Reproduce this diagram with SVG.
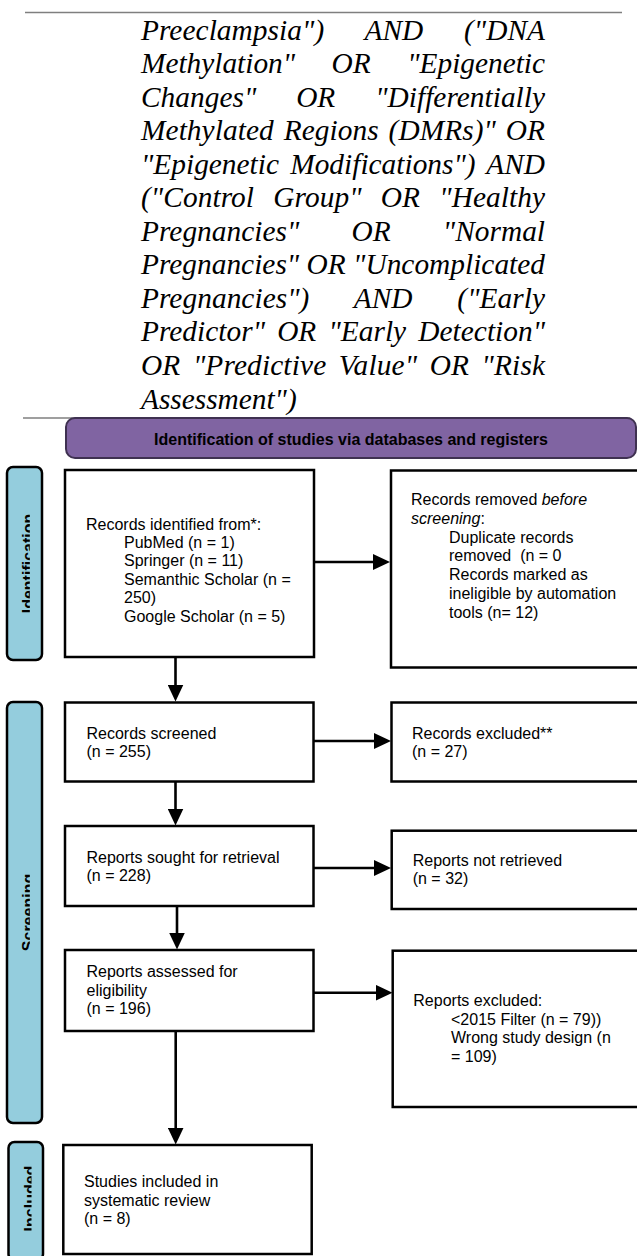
<svg xmlns="http://www.w3.org/2000/svg" width="637" height="1256" viewBox="0 0 637 1256">
<style>
.q{font-family:"Liberation Serif","Times New Roman",serif;font-style:italic;font-size:29.33px;fill:#000}
.t{font-family:"Liberation Sans",Arial,sans-serif;font-size:16px;fill:#000}
.b{font-family:"Liberation Sans",Arial,sans-serif;font-size:16px;font-weight:bold;fill:#000}
.box{fill:#fff;stroke:#000;stroke-width:2.5}
.side{fill:#94CDDD;stroke:#000;stroke-width:2.5}
.rule{stroke:#7f7f7f;stroke-width:1.5}
.conn{fill:none;stroke:#000;stroke-width:2.6}
</style>
<defs>
<marker id="ah" viewBox="0 0 17 16" refX="7" refY="8" markerWidth="17" markerHeight="16" markerUnits="userSpaceOnUse" orient="auto">
<path d="M0,0 L17,8 L0,16 z" fill="#000"/>
</marker>
<clipPath id="cTitle"><rect x="66" y="418" width="570" height="29.5"/></clipPath>
<clipPath id="cId"><rect x="6" y="467" width="23.8" height="193"/></clipPath>
<clipPath id="cScr"><rect x="6" y="702" width="23.8" height="421"/></clipPath>
<clipPath id="cInc"><rect x="8" y="1142" width="23.5" height="114"/></clipPath>
</defs>

<g id="search-text">
<line class="rule" x1="25" y1="12.5" x2="622" y2="12.5"/>
<text class="q" x="141" y="39.5" word-spacing="33.3" textLength="404" lengthAdjust="spacing">Preeclampsia") AND ("DNA</text>
<text class="q" x="141" y="73.05" word-spacing="29.2" textLength="404" lengthAdjust="spacing">Methylation" OR "Epigenetic</text>
<text class="q" x="141" y="106.6" word-spacing="32.5" textLength="404" lengthAdjust="spacing">Changes" OR "Differentially</text>
<text class="q" x="141" y="140.15" word-spacing="2.4" textLength="404" lengthAdjust="spacing">Methylated Regions (DMRs)" OR</text>
<text class="q" x="141" y="173.7" word-spacing="3.9" textLength="404" lengthAdjust="spacing">"Epigenetic Modifications") AND</text>
<text class="q" x="141" y="207.25" word-spacing="11.8" textLength="404" lengthAdjust="spacing">("Control Group" OR "Healthy</text>
<text class="q" x="141" y="240.8" word-spacing="44.7" textLength="404" lengthAdjust="spacing">Pregnancies" OR "Normal</text>
<text class="q" x="141" y="274.35" textLength="404" lengthAdjust="spacing">Pregnancies" OR "Uncomplicated</text>
<text class="q" x="141" y="307.9" word-spacing="37.4" textLength="404" lengthAdjust="spacing">Pregnancies") AND ("Early</text>
<text class="q" x="141" y="341.45" word-spacing="4.8" textLength="404" lengthAdjust="spacing">Predictor" OR "Early Detection"</text>
<text class="q" x="141" y="375" word-spacing="5" textLength="404" lengthAdjust="spacing">OR "Predictive Value" OR "Risk</text>
<text class="q" x="141" y="408.55">Assessment")</text>
<line class="rule" x1="23" y1="418" x2="630" y2="418"/>
</g>

<g id="title">
<rect x="66" y="418" width="570" height="40" rx="9" fill="#8064A2" stroke="#3F3151" stroke-width="2"/>
<text class="b" x="351" y="445" text-anchor="middle" clip-path="url(#cTitle)">Identification of studies via databases and registers</text>
</g>

<g id="side-identification">
<rect class="side" x="7" y="467" width="35" height="193" rx="6"/>
<g clip-path="url(#cId)"><text class="b" transform="translate(34.3,563.5) rotate(-90)" text-anchor="middle">Identification</text></g>
</g>
<g id="side-screening">
<rect class="side" x="7" y="702" width="35" height="421" rx="6"/>
<g clip-path="url(#cScr)"><text class="b" transform="translate(34.3,912.5) rotate(-90)" text-anchor="middle">Screening</text></g>
</g>
<g id="side-included">
<rect class="side" x="8.5" y="1142" width="34.5" height="118" rx="6"/>
<g clip-path="url(#cInc)"><text class="b" transform="translate(36.3,1198.5) rotate(-90)" text-anchor="middle">Included</text></g>
</g>

<g id="connectors">
<path class="conn" d="M314,562 H380" marker-end="url(#ah)"/>
<path class="conn" d="M175.5,657 V691.5" marker-end="url(#ah)"/>
<path class="conn" d="M313.5,741 H381" marker-end="url(#ah)"/>
<path class="conn" d="M175.5,781.5 V815.5" marker-end="url(#ah)"/>
<path class="conn" d="M313.5,868 H381" marker-end="url(#ah)"/>
<path class="conn" d="M177,906 V939.5" marker-end="url(#ah)"/>
<path class="conn" d="M313.5,992.7 H382.5" marker-end="url(#ah)"/>
<path class="conn" d="M175.7,1031 V1134.5" marker-end="url(#ah)"/>
</g>

<g id="records-identified">
<rect class="box" x="65" y="470" width="249" height="187"/>
<text class="t" x="86" y="529.5">Records identified from*:</text>
<text class="t" x="124" y="547.9">PubMed (n = 1)</text>
<text class="t" x="124" y="566.3">Springer (n = 11)</text>
<text class="t" x="124" y="584.7">Semanthic Scholar (n =</text>
<text class="t" x="124" y="603.1">250)</text>
<text class="t" x="124" y="621.5">Google Scholar (n = 5)</text>
</g>

<g id="records-removed">
<rect class="box" x="391" y="470.5" width="260" height="197"/>
<text class="t" x="411" y="505">Records removed <tspan font-style="italic">before</tspan></text>
<text class="t" x="411" y="523.8"><tspan font-style="italic">screening</tspan>:</text>
<text class="t" x="449" y="542.6">Duplicate records</text>
<text class="t" x="449" y="561.4" xml:space="preserve">removed  (n = 0</text>
<text class="t" x="449" y="580.2">Records marked as</text>
<text class="t" x="449" y="599">ineligible by automation</text>
<text class="t" x="449" y="617.8">tools (n= 12)</text>
</g>

<g id="records-screened">
<rect class="box" x="65" y="702.5" width="248.5" height="79"/>
<text class="t" x="86.5" y="738.5">Records screened</text>
<text class="t" x="86.5" y="757">(n = 255)</text>
</g>

<g id="records-excluded">
<rect class="box" x="391.5" y="702.5" width="260" height="79"/>
<text class="t" x="412" y="738.5">Records excluded**</text>
<text class="t" x="412" y="757">(n = 27)</text>
</g>

<g id="reports-sought">
<rect class="box" x="65" y="826" width="248.5" height="80"/>
<text class="t" x="86.5" y="862.5">Reports sought for retrieval</text>
<text class="t" x="86.5" y="881">(n = 228)</text>
</g>

<g id="reports-not-retrieved">
<rect class="box" x="391.7" y="830.7" width="260" height="78.3"/>
<text class="t" x="412.7" y="865.7">Reports not retrieved</text>
<text class="t" x="412.7" y="884.2">(n = 32)</text>
</g>

<g id="reports-assessed">
<rect class="box" x="65" y="950" width="248.5" height="81"/>
<text class="t" x="86.5" y="977">Reports assessed for</text>
<text class="t" x="86.5" y="995.6">eligibility</text>
<text class="t" x="86.5" y="1014.2">(n = 196)</text>
</g>

<g id="reports-excluded">
<rect class="box" x="392.7" y="950.7" width="260" height="156.3"/>
<text class="t" x="413.3" y="1006">Reports excluded:</text>
<text class="t" x="451" y="1024.6">&lt;2015 Filter (n = 79))</text>
<text class="t" x="451" y="1043.2">Wrong study design (n</text>
<text class="t" x="451" y="1061.8">= 109)</text>
</g>

<g id="studies-included">
<rect class="box" x="63.3" y="1145" width="248.4" height="109"/>
<text class="t" x="84" y="1187.3">Studies included in</text>
<text class="t" x="84" y="1205.7">systematic review</text>
<text class="t" x="84" y="1224.1">(n = 8)</text>
</g>
</svg>
